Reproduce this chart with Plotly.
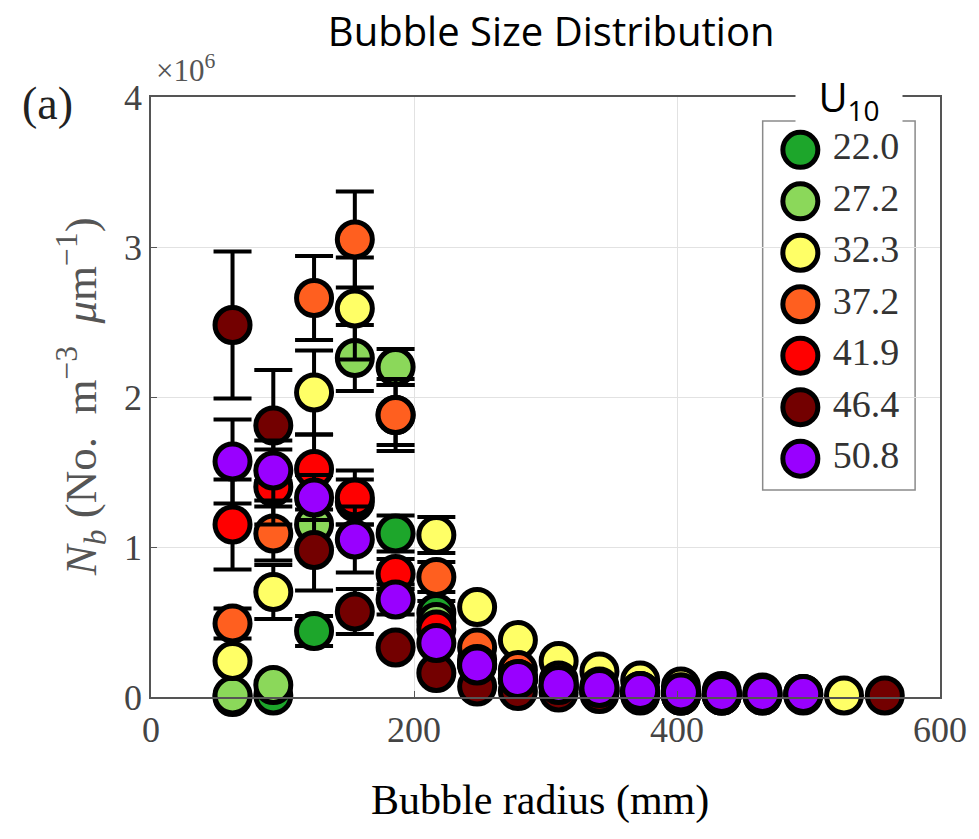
import plotly.graph_objects as go

# ---------------- data (values in units of 1e6 No. m^-3 um^-1) ----------------
radius = [62, 93, 124, 155, 186, 217, 248, 279, 310, 341, 372, 403, 434, 465, 496, 527, 558]

u10_labels = ["22.0", "27.2", "32.3", "37.2", "41.9", "46.4", "50.8"]
colors = ["#1da62b", "#8bd85a", "#ffff66", "#ff5f1f", "#ff0000", "#730000", "#9900ff"]

nb_220 = [0.00, 0.01, 0.44, 1.30, 1.09, 0.56, 0.22, 0.12, 0.07, 0.04, 0.02, 0.01, None, None, None, None, None]
nb_272 = [0.01, 0.08, 1.15, 2.26, 2.20, 0.50, 0.25, 0.13, 0.07, 0.04, 0.02, 0.01, 0.01, None, None, None, None]
nb_323 = [0.24, 0.70, 2.03, 2.59, 1.88, 1.08, 0.60, 0.38, 0.24, 0.17, 0.11, 0.07, 0.04, 0.03, 0.02, 0.01, None]
nb_372 = [0.49, 1.09, 2.66, 3.05, 1.88, 0.80, 0.33, 0.18, 0.11, 0.07, 0.04, 0.03, 0.02, 0.01, None, None, None]
nb_419 = [1.15, 1.40, 1.52, 1.33, 0.82, 0.45, 0.22, 0.12, 0.07, 0.04, 0.03, 0.02, 0.01, None, None, None, None]
nb_464 = [2.48, 1.81, 0.98, 0.57, 0.33, 0.16, 0.07, 0.04, 0.03, 0.02, 0.01, 0.01, 0.01, 0.01, 0.01, None, 0.01]
nb_508 = [1.57, 1.51, 1.33, 1.05, 0.65, 0.36, 0.21, 0.12, 0.08, 0.06, 0.04, 0.03, 0.02, 0.02, 0.02, None, None]

err_220 = [None, None, 0.10, 0.15, 0.12, 0.08] + [None] * 11
err_272 = [None, None, 0.15, 0.22, 0.12] + [None] * 12
err_323 = [None, 0.18, 0.28, 0.34, 0.20, 0.12] + [None] * 11
err_372 = [0.10, 0.18, 0.28, 0.32, 0.24, 0.10] + [None] * 11
err_419 = [0.30, 0.25, 0.23, 0.18, 0.10] + [None] * 12
err_464 = [0.49, 0.37, 0.27, 0.15] + [None] * 13
err_508 = [0.28, 0.20, 0.15, 0.22, 0.10] + [None] * 12

series = [nb_220, nb_272, nb_323, nb_372, nb_419, nb_464, nb_508]
errors = [err_220, err_272, err_323, err_372, err_419, err_464, err_508]

x_ticks = [0, 200, 400, 600]
y_ticks = [0, 1, 2, 3, 4]

SERIF = "Liberation Serif, Times New Roman, serif"
SANS = "Open Sans, Liberation Sans, sans-serif"
MSIZE = 35
MLINE = 5

fig = go.Figure()

for lab, col, vals, err in zip(u10_labels, colors, series, errors):
    fig.add_trace(go.Scatter(
        x=radius, y=vals, mode="markers", name=lab,
        marker=dict(size=MSIZE, color=col, line=dict(color="black", width=MLINE)),
        error_y=dict(type="data", array=err, visible=True, color="black", thickness=4, width=19),
        cliponaxis=False, showlegend=False,
    ))

# custom legend drawn on an overlay axis (0..1 in both directions over the plot area)
n = len(u10_labels)
leg_y = [0.912 - i * 0.0858 for i in range(n)]
fig.add_trace(go.Scatter(
    x=[0.823] * n, y=leg_y, mode="markers+text", text=[" " + l for l in u10_labels],
    textposition="middle right",
    textfont=dict(family=SERIF, size=38, color="#333333"),
    marker=dict(size=MSIZE, color=colors, line=dict(color="black", width=MLINE)),
    xaxis="x2", yaxis="y2", cliponaxis=False, showlegend=False, hoverinfo="skip",
))

axis_common = dict(
    showgrid=True, gridcolor="#e2e2e2", gridwidth=1,
    showline=True, linecolor="#555555", linewidth=1.5, mirror=True,
    ticks="inside", ticklen=6, tickcolor="#555555", zeroline=False,
    tickfont=dict(family=SERIF, size=36, color="#444444"),
)

fig.update_layout(
    width=979, height=839,
    margin=dict(l=151, r=36, t=97, b=142),
    paper_bgcolor="white", plot_bgcolor="white",
    title=dict(text="Bubble Size Distribution", x=0.563, xanchor="center",
               y=1 - 32 / 839, yanchor="middle",
               font=dict(family=SANS, size=40, color="black")),
    xaxis=dict(range=[0, 600], tickvals=x_ticks, ticktext=[str(v) for v in x_ticks], **axis_common),
    yaxis=dict(range=[0, 4], tickvals=y_ticks, ticktext=[str(v) for v in y_ticks], **axis_common),
    xaxis2=dict(range=[0, 1], overlaying="x", visible=False, fixedrange=True),
    yaxis2=dict(range=[0, 1], overlaying="y", visible=False, fixedrange=True),
    shapes=[dict(type="rect", xref="paper", yref="paper",
                 x0=(765 - 151) / 792, x1=(918 - 151) / 792,
                 y0=(697 - 490) / 600, y1=(697 - 121) / 600,
                 line=dict(color="#8a8a8a", width=1.5), fillcolor="white", layer="between")],
    annotations=[
        dict(text="U<sub>10</sub>", xref="paper", yref="paper",
             x=(852 - 151) / 792, y=(697 - 99) / 600, xanchor="center", yanchor="middle",
             showarrow=False, bgcolor="white", width=104, height=48,
             font=dict(family=SANS, size=40, color="black")),
        dict(text="×10<sup>6</sup>", xref="paper", yref="paper",
             x=(186 - 151) / 792, y=(697 - 68) / 600, xanchor="center", yanchor="middle",
             showarrow=False, font=dict(family=SERIF, size=31, color="#555555")),
        dict(text="(a)", xref="paper", yref="paper",
             x=(47 - 151) / 792, y=(697 - 103) / 600, xanchor="center", yanchor="middle",
             showarrow=False, font=dict(family=SERIF, size=46, color="#222222")),
        dict(text="<i>N</i><sub><i>b</i></sub> (No.  m<sup>−3</sup>  <i>μ</i>m<sup>−1</sup>)",
             xref="paper", yref="paper", textangle=-90,
             x=(80 - 151) / 792, y=(697 - 397) / 600, xanchor="center", yanchor="middle",
             showarrow=False, font=dict(family=SERIF, size=45, color="#555555")),
        dict(text="Bubble radius (mm)", xref="paper", yref="paper",
             x=(541 - 151) / 792, y=(697 - 800) / 600, xanchor="center", yanchor="middle",
             showarrow=False, font=dict(family=SERIF, size=42, color="black")),
    ],
)

fig.write_html("out.html")
